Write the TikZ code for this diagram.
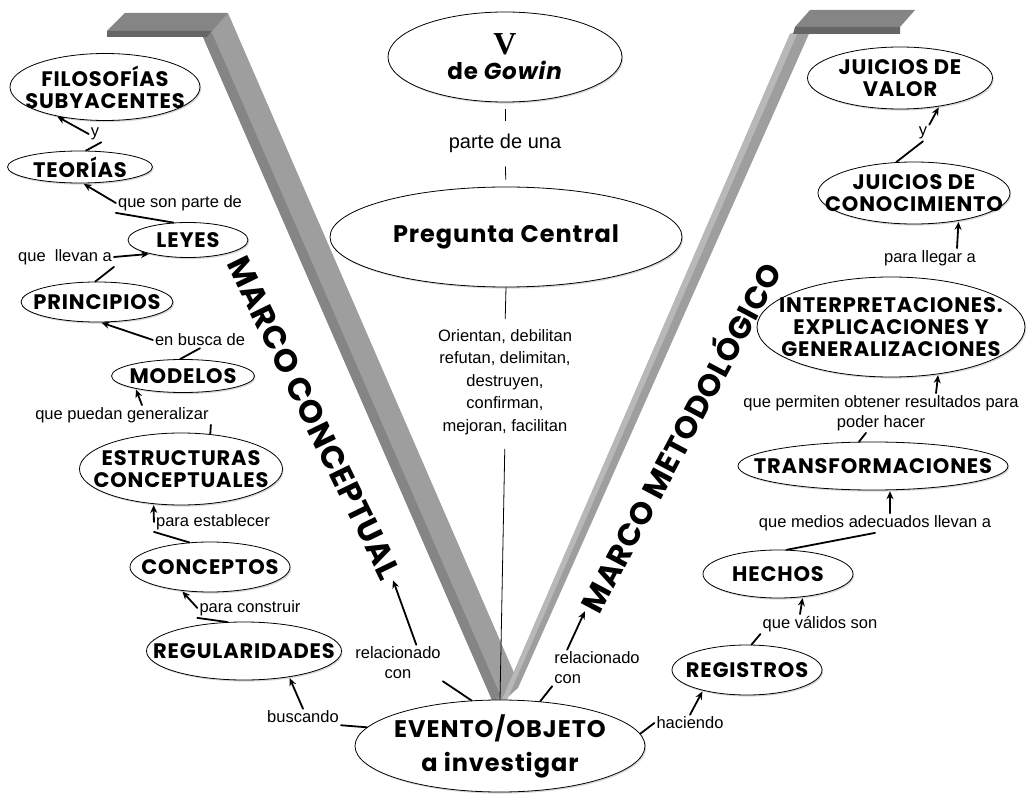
\documentclass[tikz,border=0pt]{standalone}
\usepackage{fontspec}
\usetikzlibrary{shapes.geometric,arrows.meta,shadows}

\newfontfamily\boxfont{Poppins}[LetterSpace=4]
\newfontfamily\marcofont{Poppins}[LetterSpace=2]
\newfontfamily\lblfont{Liberation Sans}
\newfontfamily\vfont{Liberation Serif}

\definecolor{vcara}{gray}{0.62}
\definecolor{vlado}{gray}{0.52}
\definecolor{vclaro}{gray}{0.72}
\definecolor{vtapa}{gray}{0.52}
\definecolor{vfrente}{gray}{0.40}

\tikzset{
  concepto/.style={ellipse, draw, line width=0.8pt, fill=white,
    inner xsep=-40pt, inner ysep=0pt, align=center,
    font=\boxfont\bfseries\fontsize{21}{22}\selectfont,
    drop shadow={shadow xshift=1.2pt, shadow yshift=-1.6pt, fill=gray!60}},
  enlace/.style={inner sep=2pt, align=center,
    font=\lblfont\fontsize{16.5}{20}\selectfont},
  marco/.style={inner sep=2pt, font=\marcofont\bfseries\fontsize{32}{34}\selectfont},
  tira/.style={line width=1.8pt, line cap=round},
  flecha/.style={tira, shorten >=1pt, -{Stealth[length=8pt,width=7pt]}},
  eje/.style={line width=0.8pt}
}

\begin{document}
\begin{tikzpicture}[x=1pt, y=-1pt]
    \useasboundingbox (0,0) rectangle (1029,794);

    % --- LA V (brazos y tapas) ---
    \fill[vcara] (203,37) -- (228,13) -- (518,682) -- (497,704) -- (492,700) -- cycle;
    \fill[vlado] (203,37) -- (212,33) -- (501,697) -- (492,700) -- cycle;
    \fill[vcara] (790,34) -- (812,27) -- (518,688) -- (500,704) -- cycle;
    \fill[vclaro] (790,34) -- (798,32) -- (507,700) -- (500,704) -- cycle;
    % tapas
    \fill[vtapa] (125,13) -- (228,13) -- (212,31) -- (107,31) -- cycle;
    \fill[vfrente] (107,31) -- (212,31) -- (207,37) -- (107,37) -- cycle;
    \fill[vtapa] (810,10) -- (915,10) -- (900,27) -- (795,27) -- cycle;
    \fill[vfrente] (795,27) -- (900,27) -- (900,34) -- (793,34) -- cycle;

    % --- CENTRO ---
    \node[concepto, minimum width=234pt, minimum height=90pt] (gowin) at (505,57)
        {{\vfont\bfseries\fontsize{32}{32}\selectfont V}\\[3pt]
         {\fontsize{23}{24}\selectfont de \textit{Gowin}}};
    \node[enlace, font=\lblfont\fontsize{20}{24}\selectfont] (parte) at (505,143) {parte de una};
    \node[concepto, minimum width=352pt, minimum height=100pt,
          font=\boxfont\bfseries\fontsize{24}{26}\selectfont] (pregunta) at (506,237) {Pregunta Central};
    \node[enlace, font=\lblfont\fontsize{16.5}{22.5}\selectfont] (orienta) at (505,382)
        {Orientan, debilitan\\refutan, delimitan,\\destruyen,\\confirman,\\mejoran, facilitan};
    \node[concepto, minimum width=290pt, minimum height=92pt,
          font=\boxfont\bfseries\fontsize{24}{34}\selectfont] (evento) at (500,746)
        {EVENTO/OBJETO\\a investigar};

    % --- MARCO CONCEPTUAL (izquierda) ---
    \node[concepto, minimum width=190pt, minimum height=67pt] (filosofias) at (105,87) {FILOSOFÍAS\\SUBYACENTES};
    \node[concepto, minimum width=145pt, minimum height=32pt] (teorias) at (80,167) {TEORÍAS};
    \node[concepto, minimum width=120pt, minimum height=35pt] (leyes) at (188,240) {LEYES};
    \node[concepto, minimum width=152pt, minimum height=40pt] (principios) at (97,302) {PRINCIPIOS};
    \node[concepto, minimum width=143pt, minimum height=33pt] (modelos) at (183,376) {MODELOS};
    \node[concepto, minimum width=203pt, minimum height=72pt] (estructuras) at (181,469) {ESTRUCTURAS\\CONCEPTUALES};
    \node[concepto, minimum width=160pt, minimum height=50pt] (conceptos) at (210,567) {CONCEPTOS};
    \node[concepto, minimum width=195pt, minimum height=58pt] (regularidades) at (244,651) {REGULARIDADES};

    \node[enlace] (y1) at (95,134) {y};
    \node[enlace] (sonparte) at (180,203) {que son parte de};
    \node[enlace] (llevan) at (65,257) {que~~llevan a};
    \node[enlace] (busca) at (200,340) {en busca de};
    \node[enlace] (generaliza) at (122,415) {que puedan generalizar};
    \node[enlace] (establece) at (213,522) {para establecer};
    \node[enlace] (construye) at (250,608) {para construir};
    \node[enlace] (buscando) at (303,717) {buscando};
    \node[enlace] (relizq) at (398,663) {relacionado\\con};

    \node[marco, rotate=-64] (mconceptual) at (314,418) {MARCO CONCEPTUAL};

    % --- MARCO METODOLOGICO (derecha) ---
    \node[concepto, minimum width=185pt, minimum height=62pt] (jvalor) at (900,78) {JUICIOS DE\\VALOR};
    \node[concepto, minimum width=192pt, minimum height=62pt] (jconoc) at (914,193) {JUICIOS DE\\CONOCIMIENTO};
    \node[concepto, minimum width=268pt, minimum height=100pt] (interp) at (891,327)
        {INTERPRETACIONES.\\EXPLICACIONES Y\\GENERALIZACIONES};
    \node[concepto, minimum width=270pt, minimum height=48pt] (transf) at (873,466) {TRANSFORMACIONES};
    \node[concepto, minimum width=150pt, minimum height=48pt] (hechos) at (778,574) {HECHOS};
    \node[concepto, minimum width=150pt, minimum height=50pt] (registros) at (747,670) {REGISTROS};

    \node[enlace] (y2) at (923,133) {y};
    \node[enlace] (llegar) at (930,258) {para llegar a};
    \node[enlace] (permiten) at (881,413) {que permiten obtener resultados para\\poder hacer};
    \node[enlace] (medios) at (875,523) {que medios adecuados llevan a};
    \node[enlace] (validos) at (820,624) {que válidos son};
    \node[enlace] (haciendo) at (690,723) {haciendo};
    \node[enlace, align=left] (relder) at (597,668) {relacionado\\con};

    \node[marco, rotate=62, font=\marcofont\bfseries\fontsize{31}{33}\selectfont] (mmetodo) at (678,436) {MARCO METODOLÓGICO};

    % --- enlaces centrales ---
    \draw[eje, shorten <=7pt, shorten >=10pt] (gowin.south) -- (parte.north);
    \draw[eje, shorten <=12pt, shorten >=7pt] (parte.south) -- (pregunta.north);
    \draw[eje, shorten >=8pt] (pregunta.south) -- (orienta.north);
    \draw[eje, shorten <=12pt] (orienta.south) -- (evento.north);

    % --- enlaces izquierda ---
    \draw[tira] (evento.172) -- (buscando.south east);
    \draw[flecha] (buscando.north) -- (regularidades.-30);
    \draw[tira] (regularidades.120) -- (construye.south west);
    \draw[flecha] (construye.west) -- (conceptos.-140);
    \draw[tira] (conceptos.130) -- (establece.south west);
    \draw[flecha] (establece.west) -- (estructuras.-128);
    \draw[tira] (estructuras.50) -- (generaliza.south east);
    \draw[flecha] ([xshift=20pt]generaliza.north) -- (modelos.-165);
    \draw[tira] (modelos.100) -- (busca.south);
    \draw[flecha] (busca.west) -- (principios.-80);
    \draw[tira] (principios.95) -- (llevan.south east);
    \draw[flecha] (llevan.east) -- (leyes.-160);
    \draw[tira] (leyes.130) -- (sonparte.south west);
    \draw[flecha] (sonparte.west) -- (teorias.-80);
    \draw[tira] (teorias.70) -- (y1.south east);
    \draw[flecha] (y1.west) -- (filosofias.-149);
    \draw[tira] (evento.122) -- (relizq.south east);
    \draw[flecha] (relizq.45) -- (mconceptual.east);

    % --- enlaces derecha ---
    \draw[tira] (evento.5) -- (haciendo.west);
    \draw[flecha] (haciendo.north) -- (registros.-155);
    \draw[tira] (registros.80) -- (validos.south west);
    \draw[flecha] ([xshift=-20pt]validos.north) -- (hechos.-43);
    \draw[tira] (hechos.70) -- (medios.south);
    \draw[flecha] ([xshift=15pt]medios.north) -- (transf.-55);
    \draw[tira] (transf.120) -- ([xshift=-15pt]permiten.south);
    \draw[flecha] ([xshift=55pt]permiten.north) -- (interp.-45);
    \draw[flecha] ([xshift=27pt]llegar.north) -- (jconoc.-32);
    \draw[tira] (jconoc.120) -- (y2.south);
    \draw[flecha] (y2.north east) -- (jvalor.-36);
    \draw[tira] (evento.48) -- (relder.south west);
    \draw[flecha] ([xshift=15pt]relder.north west) -- (mmetodo.west);

\end{tikzpicture}
\end{document}
